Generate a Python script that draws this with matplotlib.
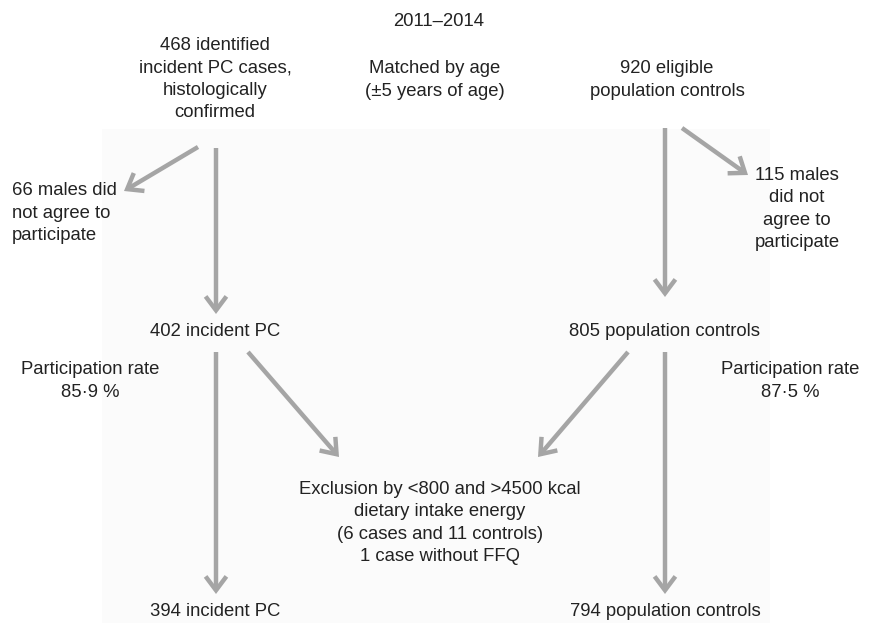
import matplotlib
matplotlib.use("Agg")
import matplotlib.pyplot as plt
from matplotlib.patches import FancyArrowPatch, Rectangle

plt.rcParams['font.family'] = ['Liberation Sans', 'DejaVu Sans']

# ---- data: labels ----
title = "2011–2014"
cases_initial = "468 identified\nincident PC cases,\nhistologically\nconfirmed"
matching = "Matched by age\n(±5 years of age)"
controls_initial = "920 eligible\npopulation controls"
cases_refused = "66 males did\nnot agree to\nparticipate"
controls_refused = "115 males\ndid not\nagree to\nparticipate"
cases_part = "402 incident PC"
controls_part = "805 population controls"
cases_rate = "Participation rate\n85·9 %"
controls_rate = "Participation rate\n87·5 %"
exclusion = "Exclusion by <800 and >4500 kcal\ndietary intake energy\n(6 cases and 11 controls)\n1 case without FFQ"
cases_final = "394 incident PC"
controls_final = "794 population controls"

W, H = 878, 630
fig = plt.figure(figsize=(W / 100, H / 100), dpi=100)
ax = fig.add_axes([0, 0, 1, 1])
ax.set_xlim(0, W)
ax.set_ylim(H, 0)
ax.axis('off')

ax.add_patch(Rectangle((102, 129), 668, 494, facecolor='#fbfbfb', edgecolor='none', zorder=0))

fs = 13.3
tc = '#222222'
ls = 1.39

def txt(x, y, s, ha='center'):
    ax.text(x, y, s, ha=ha, va='center', fontsize=fs, color=tc, linespacing=ls, zorder=3)

txt(439, 22, title)
txt(215, 79, cases_initial)
txt(435, 80, matching)
txt(667, 80, controls_initial)
txt(12, 213, cases_refused, ha='left')
txt(797, 209, controls_refused)
txt(215, 331, cases_part)
txt(665, 331, controls_part)
txt(90, 381, cases_rate)
txt(790, 381, controls_rate)
txt(440, 523, exclusion)
txt(215, 611, cases_final)
txt(665, 611, controls_final)

acol = '#a5a5a5'

def arrow(x0, y0, x1, y1):
    a = FancyArrowPatch((x0, y0), (x1, y1),
                        arrowstyle='->,head_length=1.0,head_width=0.75',
                        mutation_scale=10, lw=3.2, color=acol,
                        shrinkA=0, shrinkB=0, capstyle='butt', joinstyle='miter',
                        zorder=2)
    ax.add_patch(a)

arrow(198, 147, 124, 191)
arrow(216, 148, 216, 314)
arrow(665, 128, 665, 297)
arrow(682, 128, 748, 175)
arrow(216, 352, 216, 594)
arrow(248, 352, 339, 457)
arrow(628, 352, 538, 457)
arrow(665, 352, 665, 594)

fig.savefig('out.png', dpi=100, facecolor='white')
